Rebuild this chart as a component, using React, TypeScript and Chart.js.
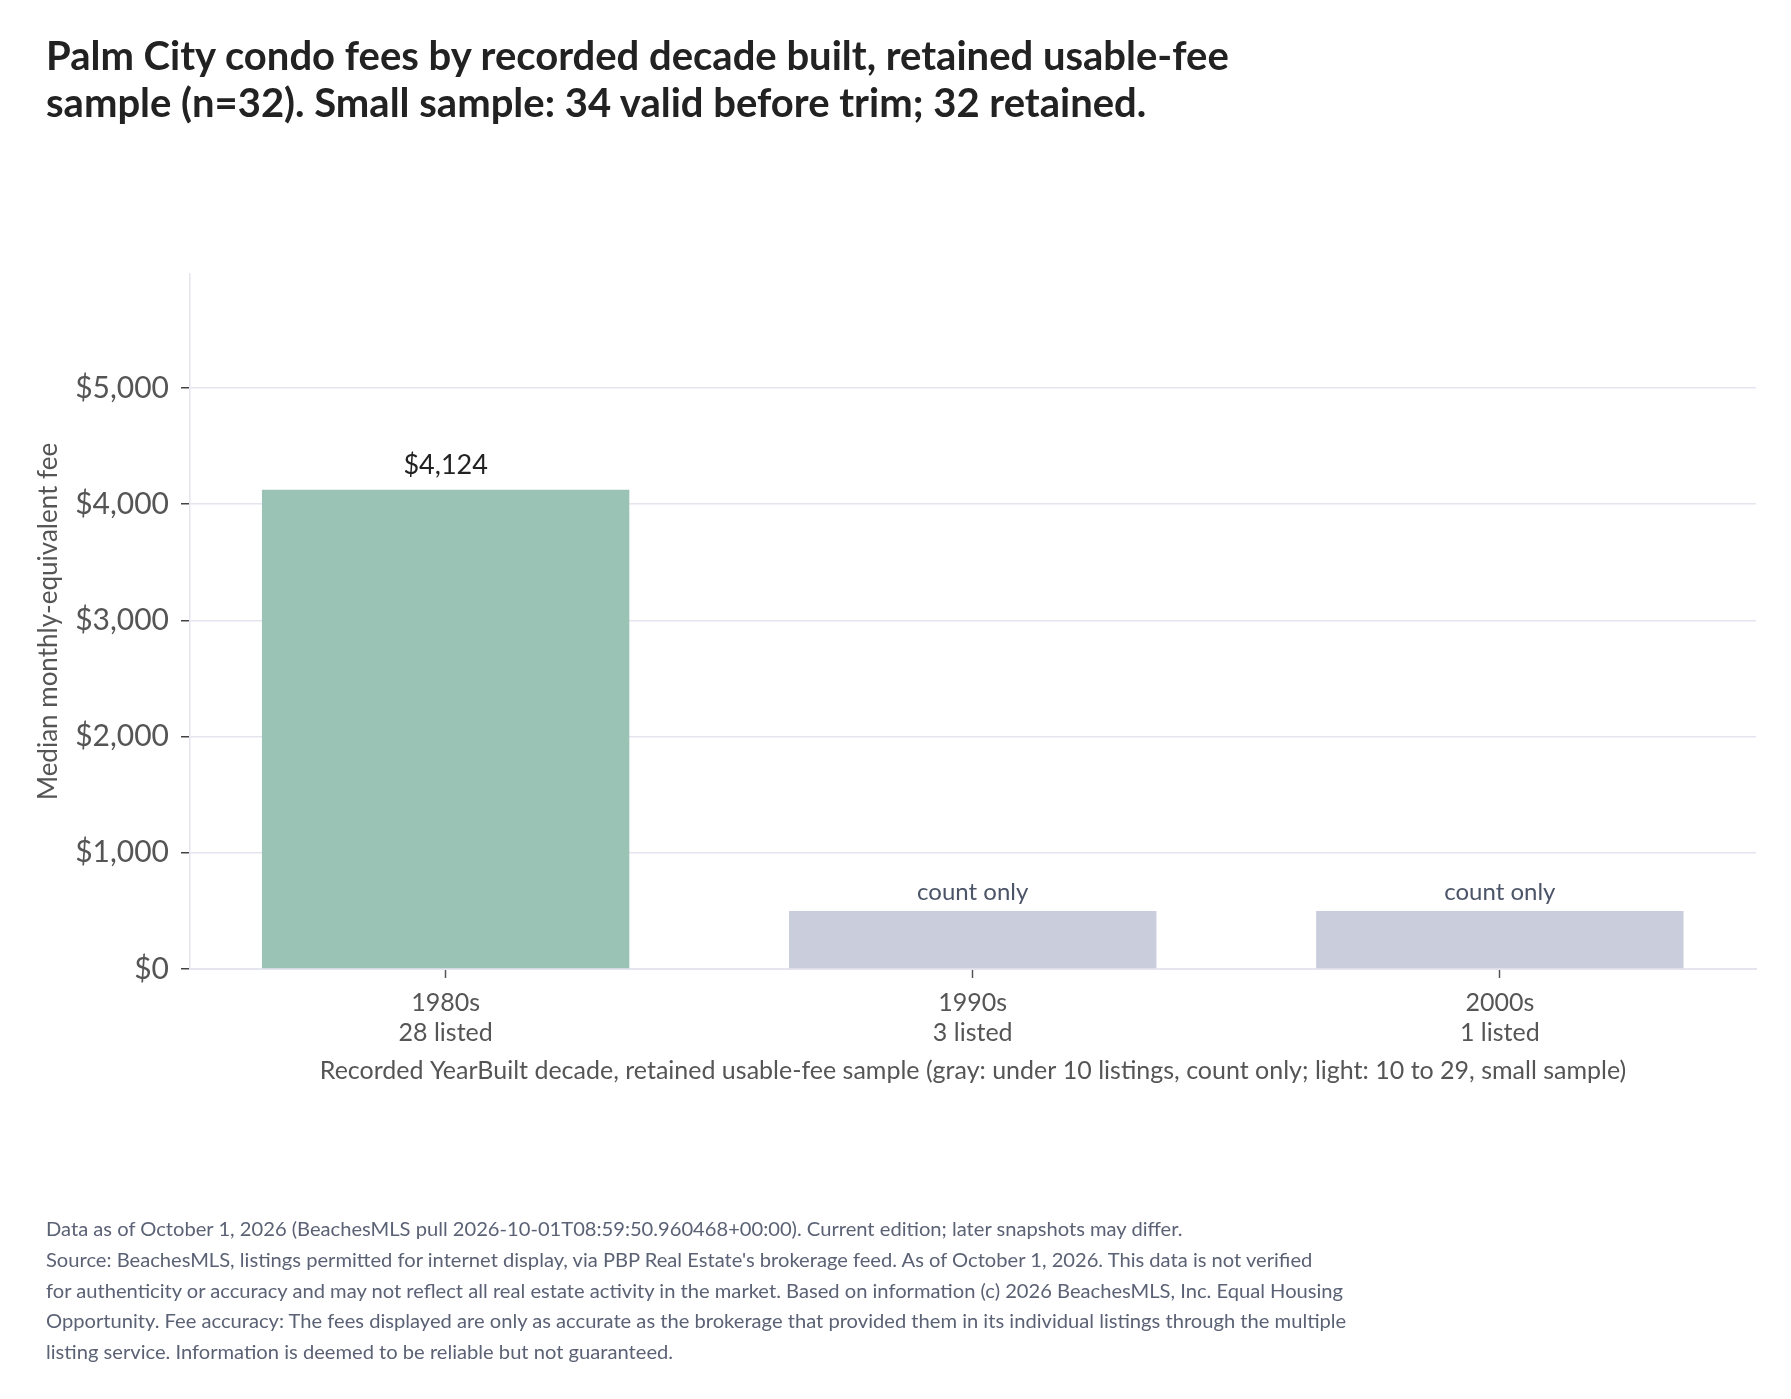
import React, { useEffect, useRef } from "react";
import { Chart, registerables } from "chart.js";

Chart.register(...registerables);

const TITLE_LINES = [
  "Palm City condo fees by recorded decade built, retained usable-fee",
  "sample (n=32). Small sample: 34 valid before trim; 32 retained.",
];
const decades = ["1980s", "1990s", "2000s"];
const listedCounts = [28, 3, 1];
const medianFees: (number | null)[] = [4124, null, null];
const countOnlyBarHeight = 500;
const yTickValues = [0, 1000, 2000, 3000, 4000, 5000];
const yMax = 5980;
const xMin = -0.485;
const xMax = 2.486;
const Y_TITLE = "Median monthly-equivalent fee";
const X_TITLE =
  "Recorded YearBuilt decade, retained usable-fee sample (gray: under 10 listings, count only; light: 10 to 29, small sample)";
const FOOTER_LINES = [
  "Data as of October 1, 2026 (BeachesMLS pull 2026-10-01T08:59:50.960468+00:00). Current edition; later snapshots may differ.",
  "Source: BeachesMLS, listings permitted for internet display, via PBP Real Estate's brokerage feed. As of October 1, 2026. This data is not verified",
  "for authenticity or accuracy and may not reflect all real estate activity in the market. Based on information (c) 2026 BeachesMLS, Inc. Equal Housing",
  "Opportunity. Fee accuracy: The fees displayed are only as accurate as the brokerage that provided them in its individual listings through the multiple",
  "listing service. Information is deemed to be reliable but not guaranteed.",
];

const GREEN = "#9BC3B5";
const GRAY = "#C9CDDC";
const GRID = "#E4E5EF";
const FONT = "Lato";

const W = 1791;
const H = 1399;

const fmtMoney = (v: number) => "$" + Math.round(v).toLocaleString("en-US");

const barLabelPlugin = {
  id: "barLabels",
  afterDatasetsDraw(chart: any) {
    const ctx = chart.ctx;
    const meta = chart.getDatasetMeta(0);
    meta.data.forEach((el: any, i: number) => {
      const fee = medianFees[i];
      ctx.save();
      ctx.textAlign = "center";
      ctx.textBaseline = "alphabetic";
      if (fee != null) {
        ctx.font = `27px ${FONT}`;
        ctx.fillStyle = "#222222";
        ctx.fillText(fmtMoney(fee), el.x, el.y - 16);
      } else {
        ctx.font = `24px ${FONT}`;
        ctx.fillStyle = "#4C5468";
        ctx.fillText("count only", el.x, el.y - 11);
      }
      ctx.restore();
    });
  },
};

export default function App() {
  const ref = useRef<HTMLCanvasElement>(null);

  useEffect(() => {
    if (!ref.current) return;
    const points = medianFees.map((f, i) => ({
      x: i,
      y: f == null ? countOnlyBarHeight : f,
    }));
    const colors = listedCounts.map((c) => (c < 10 ? GRAY : GREEN));

    const chart = new Chart(ref.current, {
      type: "bar",
      data: {
        datasets: [
          {
            data: points as any,
            backgroundColor: colors,
            borderWidth: 0,
            categoryPercentage: 1,
            barPercentage: 0.697,
          },
        ],
      },
      options: {
        animation: false,
        responsive: false,
        maintainAspectRatio: false,
        devicePixelRatio: 1,
        layout: { padding: { top: 274, right: 35, bottom: 300, left: 0 } },
        plugins: {
          legend: { display: false },
          tooltip: { enabled: false },
          title: { display: false },
        },
        scales: {
          x: {
            type: "linear",
            min: xMin,
            max: xMax,
            offset: false,
            afterBuildTicks: (s: any) => {
              s.ticks = decades.map((_, i) => ({ value: i }));
            },
            grid: {
              display: true,
              offset: false,
              drawOnChartArea: false,
              drawTicks: true,
              tickLength: 9,
              tickColor: "#555555",
              tickWidth: 1.5,
            },
            border: { display: true, color: GRID, width: 2 },
            ticks: {
              color: "#555555",
              font: { family: FONT, size: 25, lineHeight: 1.2 },
              padding: 10,
              maxRotation: 0,
              autoSkip: false,
              callback: (v: any) => {
                const i = Math.round(Number(v));
                return [decades[i], `${listedCounts[i]} listed`];
              },
            },
            title: {
              display: true,
              text: X_TITLE,
              color: "#555555",
              font: { family: FONT, size: 25, lineHeight: 1.2 },
              padding: { top: 0, bottom: 13 },
            },
            afterFit: (s: any) => {
              s.height = 130;
            },
          },
          y: {
            type: "linear",
            min: 0,
            max: yMax,
            afterBuildTicks: (s: any) => {
              s.ticks = yTickValues.map((v) => ({ value: v }));
            },
            grid: {
              color: GRID,
              lineWidth: 1.5,
              drawTicks: true,
              tickLength: 9,
              tickColor: "#444444",
              tickWidth: 1.5,
            },
            border: { display: true, color: GRID, width: 1.5 },
            ticks: {
              color: "#555555",
              font: { family: FONT, size: 30 },
              padding: 12,
              callback: (v: any) => fmtMoney(Number(v)),
            },
            title: {
              display: true,
              text: Y_TITLE,
              color: "#555555",
              font: { family: FONT, size: 26, lineHeight: 1.2 },
              padding: { top: 33, bottom: 0 },
            },
            afterFit: (s: any) => {
              s.width = 190;
            },
          },
        },
      },
      plugins: [barLabelPlugin],
    });
    return () => chart.destroy();
  }, []);

  return (
    <div
      style={{
        position: "absolute",
        left: 0,
        top: 0,
        width: W,
        height: H,
        background: "#ffffff",
        overflow: "hidden",
      }}
    >
      <canvas
        ref={ref}
        width={W}
        height={H}
        style={{ position: "absolute", left: 0, top: 0, width: W, height: H }}
      />
      <div
        style={{
          position: "absolute",
          left: 46,
          top: 32,
          fontFamily: FONT,
          fontWeight: 700,
          fontSize: 40,
          lineHeight: "47px",
          color: "#222222",
          whiteSpace: "nowrap",
        }}
      >
        {TITLE_LINES.map((l, i) => (
          <div key={i}>{l}</div>
        ))}
      </div>
      <div
        style={{
          position: "absolute",
          left: 46,
          top: 1213,
          fontFamily: FONT,
          fontSize: 20.15,
          lineHeight: "30.8px",
          color: "#5B6275",
          whiteSpace: "nowrap",
        }}
      >
        {FOOTER_LINES.map((l, i) => (
          <div key={i}>{l}</div>
        ))}
      </div>
    </div>
  );
}
